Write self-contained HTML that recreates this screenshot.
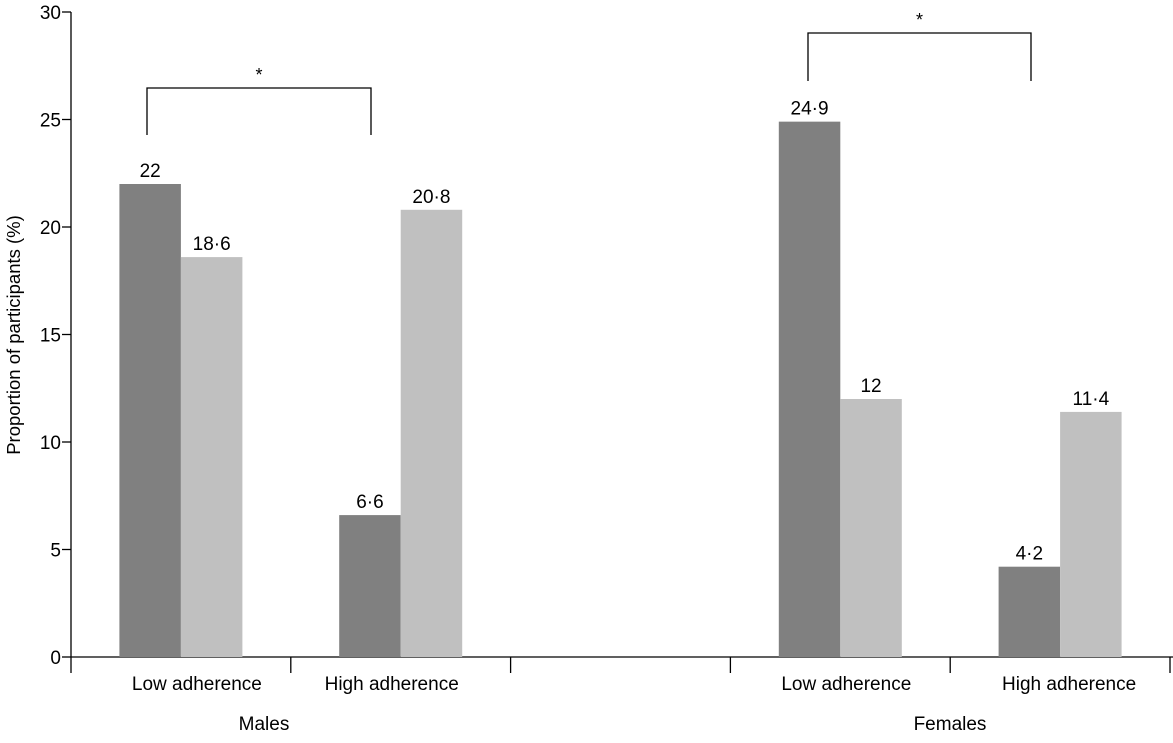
<!DOCTYPE html>
<html><head><meta charset="utf-8"><style>
body{margin:0;background:#fff}
svg text{font-family:"Liberation Sans",sans-serif;fill:#000}
</style></head><body>
<svg id="chart" width="1173" height="738"></svg>
<script>
const categories=["Low adherence","High adherence","Low adherence","High adherence"];
const groups=["Males","Females"];
const darkValues=[22,6.6,24.9,4.2];
const lightValues=[18.6,20.8,12,11.4];
const darkLabels=["22","6·6","24·9","4·2"];
const lightLabels=["18·6","20·8","12","11·4"];
const yTicks=[0,5,10,15,20,25,30];
const slotIndex=[0,1,3,4];
const labelShift=[16,-9,6,9];

const svg=document.getElementById('chart');
const NS='http://www.w3.org/2000/svg';
const x0=71,slotW=219.8,y0=657,yTop=12,yMax=30;
const y=v=>y0-(v/yMax)*(y0-yTop);
const slotC=i=>x0+slotW*(i+0.5);
const barW=61.5;
function mk(tag,attrs,name,text){const e=document.createElementNS(NS,tag);for(const k in attrs)e.setAttribute(k,attrs[k]);


if(text!==undefined)e.textContent=text;svg.appendChild(e);return e;}

mk('line',{x1:x0,y1:yTop,x2:x0,y2:y0,stroke:'#000','stroke-width':1.3},'y-axis');
mk('line',{x1:x0,y1:y0,x2:1173,y2:y0,stroke:'#000','stroke-width':1.3},'x-axis');
yTicks.forEach(t=>{mk('line',{x1:x0-9,y1:y(t),x2:x0,y2:y(t),stroke:'#000','stroke-width':1.3},'y-tick');
mk('text',{x:x0-10,y:y(t)+7,'font-size':19,'text-anchor':'end'},'y-tick-label',t);});
for(let i=0;i<=5;i++){const xx=x0+slotW*i;mk('line',{x1:xx,y1:y0,x2:xx,y2:y0+16,stroke:'#000','stroke-width':1.3},'x-tick');}
mk('text',{x:0,y:0,'font-size':18.5,'text-anchor':'middle',transform:'translate(20,335) rotate(-90)'},'y-axis-title','Proportion of participants (%)');

categories.forEach((c,i)=>{const cx=slotC(slotIndex[i]);
mk('rect',{x:cx-barW,y:y(darkValues[i]),width:barW,height:y0-y(darkValues[i]),fill:'#808080'},'bar-dark');
mk('rect',{x:cx,y:y(lightValues[i]),width:barW,height:y0-y(lightValues[i]),fill:'#c0c0c0'},'bar-light');
mk('text',{x:cx-barW/2,y:y(darkValues[i])-7,'font-size':19,'text-anchor':'middle'},'bar-value-label',darkLabels[i]);
mk('text',{x:cx+barW/2,y:y(lightValues[i])-7,'font-size':19,'text-anchor':'middle'},'bar-value-label',lightLabels[i]);
mk('text',{x:cx+labelShift[i],y:690,'font-size':19,'text-anchor':'middle'},'category-label',c);});
mk('text',{x:264,y:730,'font-size':19,'text-anchor':'middle'},'group-label',groups[0]);
mk('text',{x:950,y:730,'font-size':19,'text-anchor':'middle'},'group-label',groups[1]);

function bracket(xa,xb,top,bot){mk('path',{d:`M${xa} ${bot} L${xa} ${top} L${xb} ${top} L${xb} ${bot}`,fill:'none',stroke:'#000','stroke-width':1.3},'significance-bracket');
mk('text',{x:(xa+xb)/2,y:top-7,'font-size':18,'text-anchor':'middle'},'significance-asterisk','*');}
bracket(147,371,88,135);
bracket(808,1031,33,81);
</script>
</body></html>
